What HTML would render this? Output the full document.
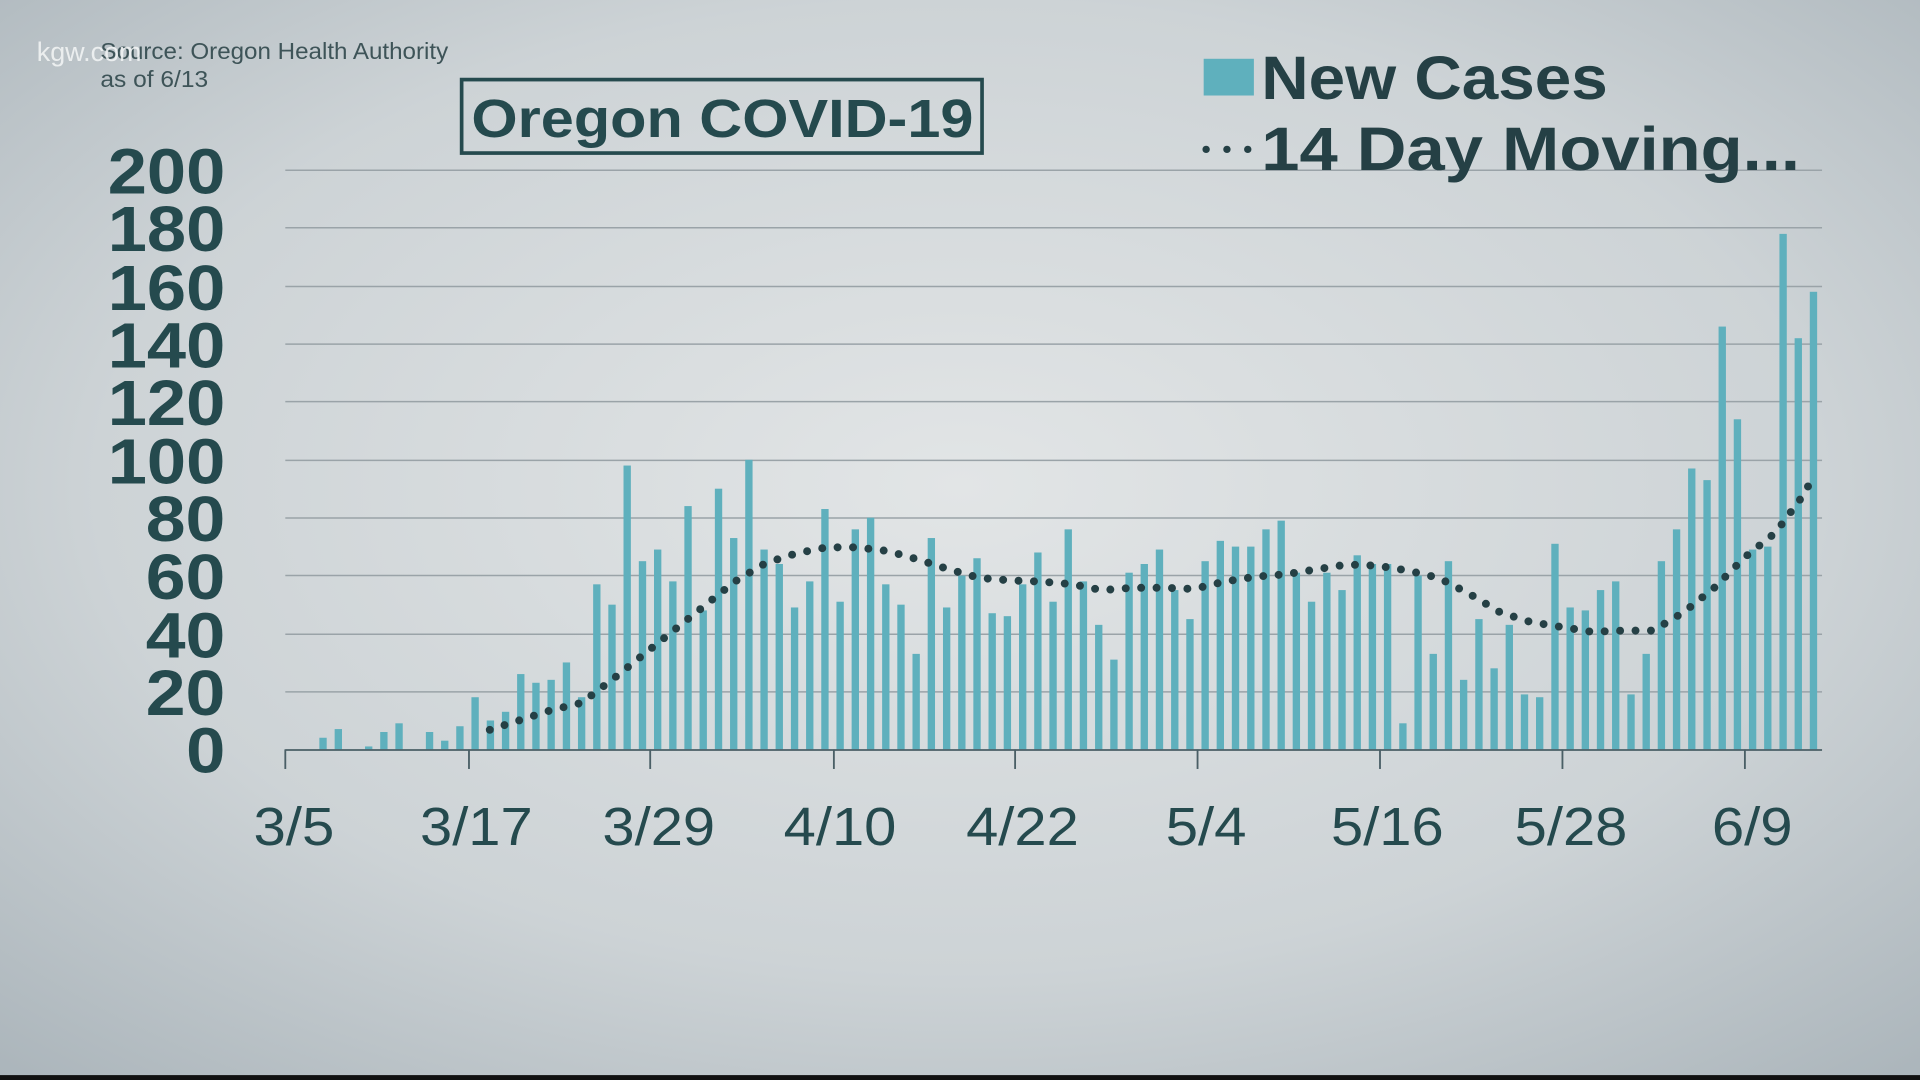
<!DOCTYPE html>
<html><head><style>
html,body{margin:0;padding:0;width:1920px;height:1080px;overflow:hidden;background:#c4cbcf}
svg{display:block}
</style></head><body>
<svg width="1920" height="1080" viewBox="0 0 1568 882" preserveAspectRatio="none" xmlns="http://www.w3.org/2000/svg">
<defs>
<radialGradient id="bg" cx="0.5" cy="0.45" r="0.75">
<stop offset="0" stop-color="#e2e5e6"/>
<stop offset="0.6" stop-color="#cdd3d6"/>
<stop offset="1" stop-color="#aab4ba"/>
</radialGradient>
</defs>
<rect width="1568" height="882" fill="url(#bg)"/>
<rect y="878" width="1568" height="4" fill="#111"/>
<g stroke="#9aa3a8" stroke-width="1.2">
<line x1="233" x2="1488" y1="139" y2="139"/><line x1="233" x2="1488" y1="186" y2="186"/>
<line x1="233" x2="1488" y1="234" y2="234"/><line x1="233" x2="1488" y1="281" y2="281"/>
<line x1="233" x2="1488" y1="328" y2="328"/><line x1="233" x2="1488" y1="376" y2="376"/>
<line x1="233" x2="1488" y1="423" y2="423"/><line x1="233" x2="1488" y1="470" y2="470"/>
<line x1="233" x2="1488" y1="518" y2="518"/><line x1="233" x2="1488" y1="565" y2="565"/>
</g>
<g id="bars" fill="#5fb0bd"></g>
<g stroke="#4a5f66" stroke-width="1.5">
<line x1="233" x2="1488" y1="612.5" y2="612.5"/>
<line x1="233" x2="233" y1="612" y2="628"/><line x1="383" x2="383" y1="612" y2="628"/>
<line x1="531" x2="531" y1="612" y2="628"/><line x1="681" x2="681" y1="612" y2="628"/>
<line x1="829" x2="829" y1="612" y2="628"/><line x1="978" x2="978" y1="612" y2="628"/>
<line x1="1127" x2="1127" y1="612" y2="628"/><line x1="1276" x2="1276" y1="612" y2="628"/>
<line x1="1425" x2="1425" y1="612" y2="628"/>
</g>
<path d="M400,596 L425,588 L450,580 L475,574 L500,555 L525,535 L550,515 L575,495 L600,475 L625,460 L650,452 L675,447 L700,447 L725,450 L750,457 L775,465 L800,472 L825,474 L850,475 L875,477 L900,482 L925,480 L950,480 L975,481 L1000,475 L1025,471 L1050,469 L1075,465 L1100,461 L1125,462 L1150,466 L1175,472 L1200,485 L1225,500 L1250,508 L1275,512 L1300,516 L1325,515 L1350,515 L1375,500 L1400,480 L1425,455 L1450,435 L1470,408 L1481,390" fill="none" stroke="#254045" stroke-width="6.5" stroke-linecap="round" stroke-dasharray="0 12.6"/>
<g font-family="Liberation Sans, sans-serif" font-weight="bold" fill="#254a4e" font-size="52" lengthAdjust="spacingAndGlyphs">
<text x="88" y="158" textLength="96" lengthAdjust="spacingAndGlyphs">200</text>
<text x="88" y="205" textLength="96" lengthAdjust="spacingAndGlyphs">180</text>
<text x="88" y="253" textLength="96" lengthAdjust="spacingAndGlyphs">160</text>
<text x="88" y="300" textLength="96" lengthAdjust="spacingAndGlyphs">140</text>
<text x="88" y="347" textLength="96" lengthAdjust="spacingAndGlyphs">120</text>
<text x="88" y="395" textLength="96" lengthAdjust="spacingAndGlyphs">100</text>
<text x="119" y="442" textLength="65" lengthAdjust="spacingAndGlyphs">80</text>
<text x="119" y="489" textLength="65" lengthAdjust="spacingAndGlyphs">60</text>
<text x="119" y="537" textLength="65" lengthAdjust="spacingAndGlyphs">40</text>
<text x="119" y="584" textLength="65" lengthAdjust="spacingAndGlyphs">20</text>
<text x="152" y="631" textLength="32" lengthAdjust="spacingAndGlyphs">0</text>
</g>
<g font-family="Liberation Sans, sans-serif" fill="#254a4e" font-size="44">
<text x="207" y="690" textLength="66" lengthAdjust="spacingAndGlyphs">3/5</text>
<text x="343" y="690" textLength="92" lengthAdjust="spacingAndGlyphs">3/17</text>
<text x="492" y="690" textLength="92" lengthAdjust="spacingAndGlyphs">3/29</text>
<text x="640" y="690" textLength="92" lengthAdjust="spacingAndGlyphs">4/10</text>
<text x="789" y="690" textLength="92" lengthAdjust="spacingAndGlyphs">4/22</text>
<text x="952" y="690" textLength="66" lengthAdjust="spacingAndGlyphs">5/4</text>
<text x="1087" y="690" textLength="92" lengthAdjust="spacingAndGlyphs">5/16</text>
<text x="1237" y="690" textLength="92" lengthAdjust="spacingAndGlyphs">5/28</text>
<text x="1398" y="690" textLength="66" lengthAdjust="spacingAndGlyphs">6/9</text>
</g>
<rect x="377" y="65" width="425" height="60" fill="none" stroke="#254a4e" stroke-width="3"/>
<text x="385" y="112" textLength="410" lengthAdjust="spacingAndGlyphs" font-family="Liberation Sans, sans-serif" font-weight="bold" font-size="44" fill="#254a4e">Oregon COVID-19</text>
<rect x="983" y="48" width="41" height="30" fill="#5fb0bd"/>
<text x="1030" y="81" textLength="283" lengthAdjust="spacingAndGlyphs" font-family="Liberation Sans, sans-serif" font-weight="bold" font-size="50" fill="#254045">New Cases</text>
<g fill="#254045"><circle cx="985" cy="122" r="3"/><circle cx="1002" cy="122" r="3"/><circle cx="1019" cy="122" r="3"/></g>
<text x="1030" y="139" textLength="440" lengthAdjust="spacingAndGlyphs" font-family="Liberation Sans, sans-serif" font-weight="bold" font-size="50" fill="#254045">14 Day Moving...</text>
<text x="82" y="48" textLength="284" lengthAdjust="spacingAndGlyphs" font-family="Liberation Sans, sans-serif" font-size="19" fill="#3e5458">Source: Oregon Health Authority</text>
<text x="82" y="71" textLength="88" lengthAdjust="spacingAndGlyphs" font-family="Liberation Sans, sans-serif" font-size="19" fill="#3e5458">as of 6/13</text>
<text x="30" y="50" font-family="Liberation Sans, sans-serif" font-size="22" fill="#f4f6f6" opacity="0.85">kgw.com</text>
</svg>
<script>
var v=[0,0,4,7,0,1,6,9,0,6,3,8,18,10,13,26,23,24,30,18,57,50,98,65,69,58,
84,48,90,73,100,69,64,49,58,83,51,76,80,57,50,33,73,49,60,66,47,46,57,68,51,76,58,43,31,61,64,69,55,45,65,72,70,70,76,79,61,51,61,55,67,64,64,9,60,33,65,24,45,28,43,19,18,71,49,48,55,58,19,33,65,76,97,93,146,114,69,70,178,142,158];
var g=document.getElementById('bars'),s='';
for(var k=0;k<v.length;k++){if(!v[k])continue;var h=v[k]*2.365,x=239+12.42*k-3;
s+='<rect x="'+x.toFixed(1)+'" y="'+(612-h).toFixed(1)+'" width="6" height="'+h.toFixed(1)+'"/>';}
g.innerHTML=s;
</script>
</body></html>
